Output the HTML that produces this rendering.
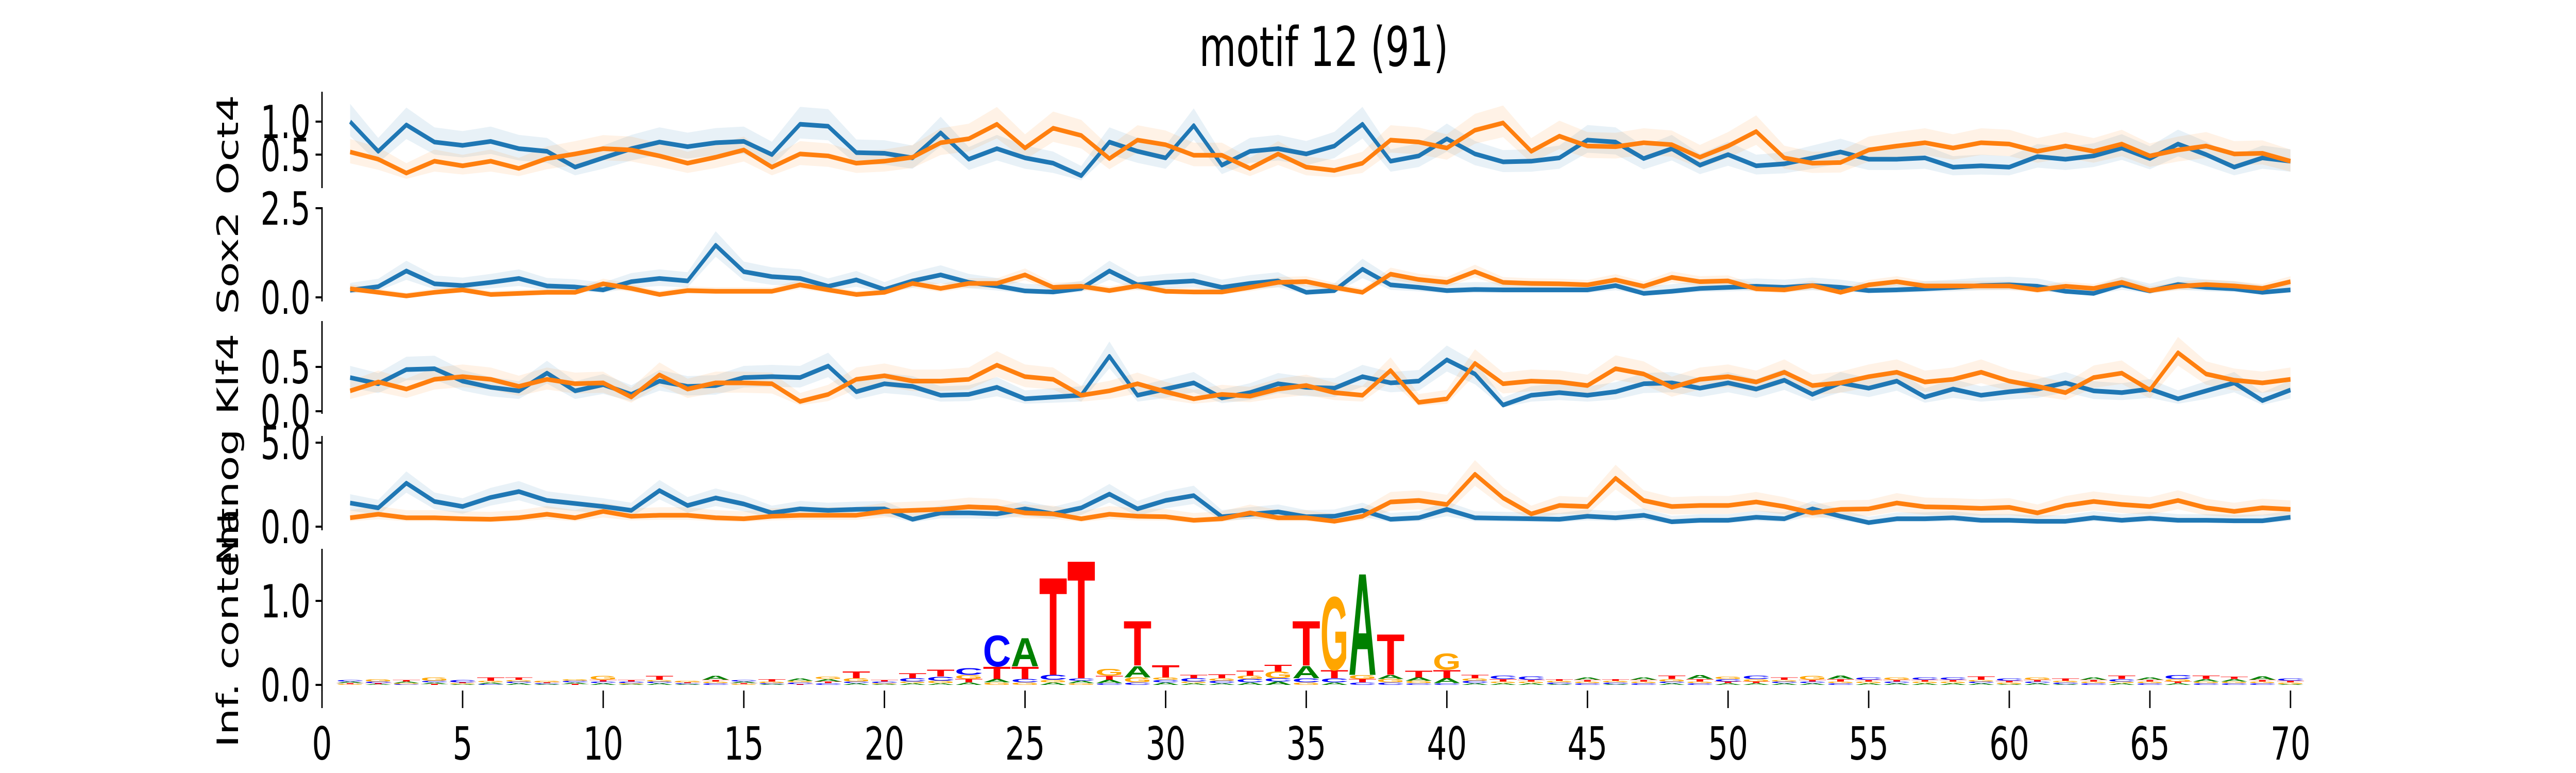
<!DOCTYPE html>
<html><head><meta charset="utf-8"><style>
html,body{margin:0;padding:0;background:#fff;width:100%;height:100%;overflow:hidden;}
svg{display:block;position:absolute;left:0;top:0;width:100%;height:100%;font-family:"DejaVu Sans","Liberation Sans",sans-serif;}
</style></head><body>
<svg id="chart" width="100%" height="100%" viewBox="0 0 7200 1500" preserveAspectRatio="none" xmlns="http://www.w3.org/2000/svg" overflow="hidden">
<text x="3700" y="128" font-size="106" text-anchor="middle">motif 12 (91)</text>
</svg>
<script>
const positions = Array.from({length:70},(_,i)=>i+1);
const oct4Blue=[1.0,0.55,0.95,0.69,0.64,0.7,0.59,0.55,0.31,0.45,0.59,0.69,0.62,0.68,0.7,0.5,0.96,0.93,0.53,0.52,0.45,0.83,0.43,0.59,0.45,0.37,0.18,0.69,0.55,0.45,0.94,0.34,0.55,0.59,0.51,0.63,0.96,0.4,0.48,0.74,0.51,0.39,0.4,0.45,0.72,0.69,0.44,0.59,0.34,0.5,0.33,0.36,0.45,0.54,0.43,0.43,0.45,0.31,0.33,0.31,0.47,0.43,0.48,0.6,0.44,0.66,0.5,0.31,0.45,0.4];
const oct4Orange=[0.54,0.43,0.22,0.4,0.33,0.4,0.29,0.44,0.51,0.59,0.57,0.48,0.37,0.46,0.57,0.31,0.51,0.48,0.37,0.4,0.46,0.68,0.74,0.96,0.6,0.9,0.79,0.44,0.72,0.65,0.49,0.49,0.29,0.51,0.31,0.26,0.37,0.72,0.69,0.6,0.87,0.98,0.55,0.78,0.63,0.62,0.68,0.65,0.46,0.63,0.85,0.45,0.37,0.38,0.57,0.63,0.68,0.6,0.68,0.66,0.55,0.63,0.55,0.66,0.48,0.57,0.63,0.51,0.52,0.4];
const sox2Blue=[0.2,0.3,0.74,0.38,0.33,0.42,0.53,0.32,0.29,0.21,0.44,0.53,0.46,1.46,0.72,0.58,0.53,0.31,0.49,0.22,0.46,0.63,0.42,0.32,0.18,0.15,0.25,0.74,0.35,0.42,0.46,0.28,0.39,0.46,0.14,0.19,0.79,0.35,0.28,0.19,0.22,0.21,0.21,0.21,0.21,0.33,0.11,0.17,0.25,0.28,0.31,0.28,0.33,0.28,0.19,0.21,0.24,0.28,0.33,0.35,0.31,0.17,0.11,0.35,0.18,0.36,0.28,0.24,0.14,0.21];
const sox2Orange=[0.24,0.14,0.04,0.14,0.21,0.08,0.11,0.14,0.14,0.38,0.25,0.08,0.19,0.17,0.17,0.17,0.35,0.21,0.08,0.14,0.39,0.25,0.39,0.39,0.63,0.28,0.31,0.19,0.32,0.17,0.15,0.15,0.28,0.42,0.44,0.28,0.14,0.65,0.5,0.42,0.72,0.42,0.39,0.38,0.35,0.49,0.31,0.56,0.44,0.46,0.24,0.21,0.33,0.14,0.35,0.44,0.32,0.32,0.32,0.32,0.21,0.31,0.25,0.42,0.19,0.31,0.36,0.32,0.25,0.44];
const klf4Blue=[0.38,0.31,0.47,0.48,0.34,0.27,0.23,0.43,0.23,0.3,0.19,0.34,0.28,0.29,0.38,0.39,0.38,0.51,0.22,0.31,0.28,0.18,0.19,0.27,0.14,0.16,0.18,0.62,0.18,0.25,0.32,0.15,0.21,0.31,0.27,0.26,0.39,0.32,0.34,0.58,0.42,0.07,0.18,0.21,0.18,0.22,0.31,0.32,0.26,0.32,0.25,0.35,0.19,0.32,0.26,0.34,0.16,0.25,0.18,0.22,0.25,0.32,0.23,0.21,0.25,0.14,0.23,0.32,0.12,0.24];
const klf4Orange=[0.23,0.33,0.25,0.36,0.39,0.36,0.28,0.36,0.31,0.32,0.16,0.41,0.25,0.32,0.32,0.31,0.11,0.19,0.36,0.4,0.34,0.34,0.36,0.52,0.39,0.36,0.18,0.23,0.31,0.22,0.14,0.19,0.17,0.25,0.29,0.21,0.18,0.46,0.1,0.14,0.54,0.31,0.34,0.33,0.29,0.48,0.42,0.27,0.36,0.39,0.33,0.44,0.29,0.32,0.39,0.44,0.33,0.36,0.44,0.34,0.28,0.21,0.38,0.43,0.24,0.66,0.42,0.35,0.32,0.36];
const nanogBlue=[1.41,1.12,2.59,1.5,1.2,1.74,2.09,1.56,1.38,1.2,0.97,2.15,1.26,1.71,1.35,0.82,1.06,0.97,1.03,1.06,0.44,0.82,0.82,0.76,1.06,0.76,1.12,1.94,1.06,1.56,1.85,0.59,0.74,0.88,0.59,0.62,0.97,0.44,0.53,1.03,0.53,0.5,0.47,0.44,0.62,0.53,0.68,0.29,0.38,0.38,0.56,0.47,1.06,0.62,0.24,0.47,0.47,0.53,0.38,0.38,0.32,0.32,0.53,0.38,0.5,0.38,0.38,0.35,0.35,0.56];
const nanogOrange=[0.53,0.74,0.53,0.53,0.47,0.44,0.53,0.74,0.53,0.91,0.62,0.68,0.68,0.53,0.47,0.62,0.68,0.68,0.68,0.91,0.97,1.03,1.18,1.12,0.82,0.76,0.47,0.74,0.62,0.59,0.38,0.47,0.82,0.53,0.53,0.32,0.62,1.47,1.56,1.32,3.12,1.71,0.76,1.26,1.2,2.88,1.56,1.2,1.26,1.26,1.47,1.2,0.82,1.03,1.06,1.41,1.18,1.15,1.09,1.15,0.82,1.26,1.5,1.32,1.2,1.56,1.12,0.91,1.12,1.03];
const logoA=[0.02,0.01,0.02,0.02,0.01,0.02,0.02,0.01,0.02,0.02,0.01,0.02,0.01,0.05,0.02,0.01,0.03,0.03,0.02,0.01,0.02,0.02,0.03,0.04,0.35,0.03,0.03,0.04,0.14,0.03,0.02,0.02,0.03,0.04,0.15,0.03,1.25,0.05,0.04,0.06,0.02,0.02,0.02,0.01,0.03,0.01,0.03,0.02,0.05,0.02,0.02,0.02,0.02,0.04,0.02,0.02,0.02,0.02,0.02,0.01,0.02,0.01,0.03,0.02,0.03,0.02,0.03,0.03,0.04,0.01];
const logoC=[0.02,0.02,0.01,0.02,0.03,0.01,0.02,0.01,0.02,0.02,0.02,0.02,0.01,0.02,0.02,0.01,0.02,0.02,0.02,0.02,0.04,0.05,0.08,0.38,0.04,0.06,0.03,0.02,0.03,0.03,0.04,0.03,0.04,0.04,0.05,0.05,0.03,0.03,0.02,0.02,0.03,0.04,0.04,0.02,0.02,0.02,0.02,0.02,0.02,0.03,0.04,0.02,0.02,0.02,0.03,0.02,0.03,0.03,0.02,0.03,0.02,0.02,0.02,0.03,0.02,0.05,0.02,0.02,0.02,0.03];
const logoG=[0.01,0.03,0.01,0.04,0.01,0.02,0.02,0.02,0.02,0.05,0.01,0.02,0.02,0.02,0.01,0.02,0.02,0.03,0.04,0.01,0.02,0.03,0.05,0.03,0.03,0.03,0.02,0.08,0.06,0.03,0.02,0.03,0.04,0.08,0.03,0.9,0.05,0.04,0.03,0.2,0.03,0.02,0.02,0.02,0.02,0.02,0.02,0.03,0.02,0.03,0.03,0.02,0.05,0.02,0.02,0.03,0.02,0.02,0.02,0.02,0.03,0.02,0.02,0.02,0.02,0.03,0.02,0.02,0.02,0.02];
const logoT=[0.01,0.01,0.02,0.01,0.01,0.04,0.03,0.01,0.01,0.02,0.02,0.05,0.01,0.02,0.01,0.03,0.01,0.02,0.08,0.02,0.06,0.08,0.04,0.15,0.15,1.2,1.45,0.05,0.55,0.15,0.04,0.05,0.06,0.08,0.55,0.1,0.04,0.5,0.08,0.1,0.04,0.03,0.02,0.02,0.02,0.02,0.02,0.04,0.03,0.02,0.02,0.03,0.02,0.03,0.02,0.02,0.02,0.02,0.04,0.02,0.02,0.03,0.02,0.04,0.02,0.02,0.04,0.03,0.02,0.02];
const xTicks=[0,5,10,15,20,25,30,35,40,45,50,55,60,65,70];
const oct4Ticks=[0.5,1.0], sox2Ticks=[0.0,2.5], klf4Ticks=[0.0,0.5], nanogTicks=[0.0,5.0], logoTicks=[0.0,1.0];

const NS="http://www.w3.org/2000/svg";
const svg=document.getElementById('chart');
const X0=900, PXU=(6402-900)/70;
const xs=v=>X0+v*PXU;
const FS=88, LFS=82;
function mk(tag,attrs,parent){const e=document.createElementNS(NS,tag);for(const k in attrs)e.setAttribute(k,attrs[k]);(parent||svg).appendChild(e);return e;}
const panels=[
 {name:'oct4',label:'Oct4',zero:364,ppu:128,top:178,bot:365,ticks:oct4Ticks,blue:oct4Blue,orange:oct4Orange,lc:281},
 {name:'sox2',label:'Sox2',zero:577,ppu:69.2,top:402,bot:585,ticks:sox2Ticks,blue:sox2Blue,orange:sox2Orange,lc:510},
 {name:'klf4',label:'Klf4',zero:798,ppu:172,top:623,bot:803,ticks:klf4Ticks,blue:klf4Blue,orange:klf4Orange,lc:726},
 {name:'nanog',label:'Nanog',zero:1022,ppu:32.6,top:846,bot:1029,ticks:nanogTicks,blue:nanogBlue,orange:nanogOrange,lc:965}
];
function yAxis(p,g){
  const sp=mk('line',{x1:X0,x2:X0,y1:p.top,y2:p.bot,stroke:'#000','stroke-width':4},g);
  
  
  p.ticks.forEach(t=>{
    const y=p.zero-t*p.ppu;
    const tk=mk('line',{x1:X0-18,x2:X0,y1:y,y2:y,stroke:'#000','stroke-width':4},g);
    
    
    const tl=mk('text',{x:X0-32,y:y+32,'font-size':FS,'text-anchor':'end'},g);
    tl.textContent=t.toFixed(1);
    
    
  });
  const lb=mk('text',{x:0,y:0,'font-size':LFS,'text-anchor':'middle',transform:`translate(665,${p.lc}) rotate(-90)`},g);
  lb.textContent=p.label;
  
  
}
panels.forEach(p=>{
  const g=mk('g',{});
  
  
  const ys=v=>p.zero-v*p.ppu;
  [['blue','#1f77b4',p.blue],['orange','#ff7f0e',p.orange]].forEach(([nm,col,arr])=>{
    const sp=Math.max(...arr)*0.12;
    const up=arr.map((v,i)=>xs(positions[i])+','+ys(v+sp+v*0.15));
    const lo=arr.map((v,i)=>xs(positions[i])+','+ys(Math.max(v-sp-v*0.1,v*0.6))).reverse();
    const band=mk('polygon',{points:up.concat(lo).join(' '),fill:col,'fill-opacity':0.1,stroke:'none'},g);
    
    
  });
  [['blue','#1f77b4',p.blue],['orange','#ff7f0e',p.orange]].forEach(([nm,col,arr])=>{
    const ln=mk('polyline',{points:arr.map((v,i)=>xs(positions[i])+','+ys(v)).join(' '),fill:'none',stroke:col,'stroke-width':9,'stroke-linejoin':'round'},g);
    
    
  });
  yAxis(p,g);
});
const lp={name:'logo',label:'Inf. content',zero:1329,ppu:163,top:1065,bot:1341,ticks:logoTicks,lc:1218};
const lg=mk('g',{});


const letterCols={A:'#008000',C:'#0000ff',G:'#ffa500',T:'#ff0000'};
const logoArrs={A:logoA,C:logoC,G:logoG,T:logoT};
positions.forEach((pos,i)=>{
  const items=['A','C','G','T'].map(L=>[L,logoArrs[L][i]]).sort((a,b)=>a[1]-b[1]);
  let base=0;
  items.forEach(([L,h])=>{
    const yb=lp.zero-base*lp.ppu;
    const hp=h*lp.ppu;
    const sx=PXU/72, sy=hp/72;
    const t=mk('text',{x:0,y:0,'font-size':100,'font-weight':'bold','font-family':'Liberation Sans, sans-serif',fill:letterCols[L],textLength:72,lengthAdjust:'spacingAndGlyphs',transform:`translate(${xs(pos-0.5)},${yb}) scale(${sx},${sy})`},lg);
    t.textContent=L;
    
    
    base+=h;
  });
});
yAxis(lp,lg);
const xg=mk('g',{});


xTicks.forEach(t=>{
  const tk=mk('line',{x1:xs(t),x2:xs(t),y1:1340,y2:1374,stroke:'#000','stroke-width':4},xg);
  
  
  const tl=mk('text',{x:xs(t),y:1474,'font-size':FS,'text-anchor':'middle'},xg);
  tl.textContent=t;
  
  
});
</script>
</body></html>
